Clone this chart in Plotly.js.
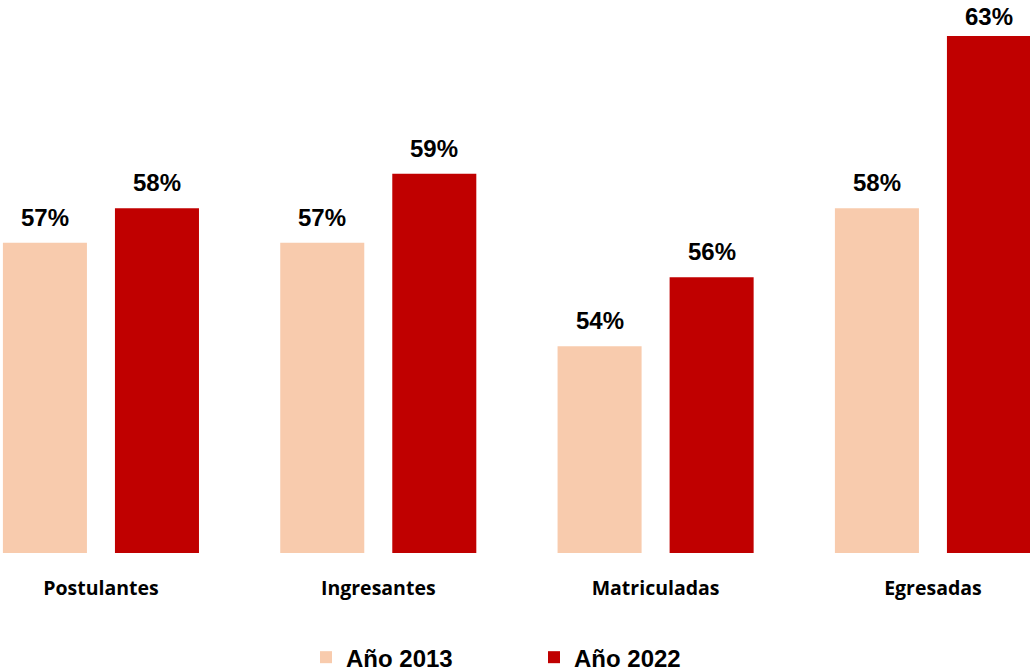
<!DOCTYPE html>
<html>
<head>
<meta charset="utf-8">
<script src="https://cdn.plot.ly/plotly-3.0.1.min.js"></script>
<style>html,body{margin:0;padding:0;background:#fff;}#chart{width:1030px;height:671px;}</style>
</head>
<body>
<div id="chart"></div>
<script>
const categories = ["Postulantes", "Ingresantes", "Matriculadas", "Egresadas"];
const values2013 = [57, 57, 54, 58];
const values2022 = [58, 59, 56, 63];
const seriesNames = ["Año 2013", "Año 2022"];

const labelFont = {family: "Liberation Sans, Arial, sans-serif", size: 24, color: "#000", weight: "bold"};

const traces = [
  {
    type: "bar", name: seriesNames[0], x: categories, y: values2013,
    marker: {color: "#F8CBAD"}, hoverinfo: "skip"
  },
  {
    type: "bar", name: seriesNames[1], x: categories, y: values2022,
    marker: {color: "#C00000"}, hoverinfo: "skip"
  }
];

const yMax = 63;
const annotations = [];
[values2013, values2022].forEach((vals, si) => {
  vals.forEach((v, i) => {
    annotations.push({
      x: categories[i], y: v, xref: "x", yref: "y",
      xshift: si === 0 ? -56 : 56, yshift: v >= yMax ? 4 : 10,
      yanchor: "bottom", xanchor: "center",
      text: "<b>" + v + "%</b>", showarrow: false, font: labelFont
    });
  });
});

const layout = {
  width: 1030, height: 671,
  margin: {l: 0, r: 0, t: 36, b: 118, pad: 0},
  paper_bgcolor: "#fff", plot_bgcolor: "#fff",
  barmode: "group", bargap: 0.192, bargroupgap: 0.25,
  showlegend: true,
  annotations: annotations,
  legend: {
    orientation: "h", x: 306 / 1030, xanchor: "left",
    yref: "container", y: 0.02, yanchor: "middle",
    font: {family: "Liberation Sans, Arial, sans-serif", size: 24, color: "#000", weight: "bold"},
    entrywidth: 183, entrywidthmode: "pixels", itemwidth: 30, tracegroupgap: 0
  },
  xaxis: {
    type: "category", range: [-0.364, 3.35],
    showgrid: false, zeroline: false, showline: false,
    ticks: "outside", ticklen: 18, tickcolor: "rgba(0,0,0,0)",
    tickfont: {family: "Open Sans, sans-serif", size: 19.5, color: "#000", weight: "bold"},
    fixedrange: true
  },
  yaxis: {
    range: [48, 63], visible: false, showgrid: false, zeroline: false, fixedrange: true
  }
};

Plotly.newPlot("chart", traces, layout, {displayModeBar: false, staticPlot: true});
</script>
</body>
</html>
